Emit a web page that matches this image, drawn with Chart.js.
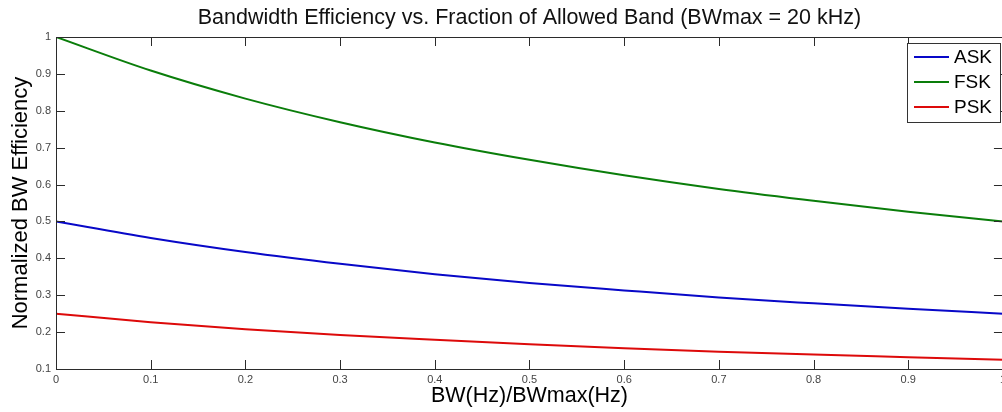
<!DOCTYPE html>
<html>
<head>
<meta charset="utf-8">
<script src="https://cdn.jsdelivr.net/npm/chart.js@4.4.1/dist/chart.umd.min.js"></script>
<style>
  html, body { margin: 0; padding: 0; background: #fff; overflow: hidden; }
  #wrap { width: 1002px; height: 412px; overflow: hidden; }
</style>
</head>
<body>
<div id="wrap"><canvas id="bwChart" width="1010" height="412"></canvas></div>
<script>
// values
const bwFraction = [0, 0.1, 0.2, 0.3, 0.4, 0.5, 0.6, 0.7, 0.8, 0.9, 1.0];
const askEff = [0.500, 0.455, 0.417, 0.385, 0.357, 0.333, 0.313, 0.294, 0.278, 0.263, 0.250];
const fskEff = [1.000, 0.909, 0.833, 0.769, 0.714, 0.667, 0.625, 0.588, 0.556, 0.526, 0.500];
const pskEff = [0.250, 0.227, 0.208, 0.192, 0.179, 0.167, 0.156, 0.147, 0.139, 0.132, 0.125];
const seriesNames = ['ASK', 'FSK', 'PSK'];
const seriesColors = ['#0808c8', '#0a7d0a', '#dd0a0a'];

const FONT = 'Arial, "Liberation Sans", sans-serif';

function toPoints(ys) {
    return bwFraction.map((x, i) => ({ x: x, y: ys[i] }));
}

// MATLAB style box with inward ticks on all four sides, plus boxed legend
const matlabAxes = {
    id: 'matlabAxes',
    afterDatasetsDraw(chart) {
        const c = chart.ctx;
        const a = chart.chartArea;
        const xs = chart.scales.x, ys = chart.scales.y;
        const tl = 9;
        c.save();
        c.strokeStyle = '#2b2b2b';
        c.lineWidth = 1;
        c.beginPath();
        c.rect(a.left + 0.5, a.top + 0.5, a.right - a.left, a.bottom - a.top);
        xs.ticks.forEach(t => {
            const px = Math.round(xs.getPixelForValue(t.value)) + 0.5;
            c.moveTo(px, a.bottom); c.lineTo(px, a.bottom - tl);
            c.moveTo(px, a.top); c.lineTo(px, a.top + tl);
        });
        ys.ticks.forEach(t => {
            const py = Math.round(ys.getPixelForValue(t.value)) + 0.5;
            c.moveTo(a.left, py); c.lineTo(a.left + tl, py);
            c.moveTo(a.right, py); c.lineTo(a.right - tl, py);
        });
        c.stroke();

        // legend
        const bx = 907, by = 43, bw = 93, bh = 79;
        c.fillStyle = '#fff';
        c.fillRect(bx, by, bw, bh);
        c.strokeStyle = '#333';
        c.strokeRect(bx + 0.5, by + 0.5, bw, bh);
        c.font = '19px ' + FONT;
        c.textBaseline = 'middle';
        chart.data.datasets.forEach((ds, i) => {
            const ry = by + 14 + i * 25;
            c.strokeStyle = ds.borderColor;
            c.lineWidth = 2;
            c.beginPath();
            c.moveTo(bx + 7, ry); c.lineTo(bx + 42, ry);
            c.stroke();
            c.fillStyle = '#000';
            c.fillText(ds.label, bx + 47, ry + 1);
        });
        c.restore();
    }
};

const ctx = document.getElementById('bwChart');
new Chart(ctx.getContext('2d'), {
    type: 'line',
    data: {
        datasets: seriesNames.map((name, i) => ({
            label: name,
            data: toPoints([askEff, fskEff, pskEff][i]),
            borderColor: seriesColors[i],
            backgroundColor: seriesColors[i],
            borderWidth: 2,
            pointRadius: 0,
            fill: false,
            cubicInterpolationMode: 'monotone'
        }))
    },
    options: {
        responsive: false,
        animation: false,
        layout: { padding: { right: 6, left: 0, bottom: 0 } },
        plugins: {
            legend: { display: false },
            tooltip: { enabled: false },
            title: {
                display: true,
                fullSize: false,
                text: 'Bandwidth Efficiency vs. Fraction of Allowed Band (BWmax = 20 kHz)',
                color: '#111',
                font: { family: FONT, size: 21.5, weight: 'normal', lineHeight: 1.2 },
                padding: { top: 5, bottom: 6.2 }
            }
        },
        scales: {
            x: {
                type: 'linear',
                min: 0,
                max: 1,
                grid: { display: false, drawTicks: false },
                border: { display: false },
                ticks: {
                    stepSize: 0.1,
                    padding: 4,
                    color: '#444',
                    maxRotation: 0,
                    font: { family: FONT, size: 11 },
                    callback: v => String(+v.toFixed(1))
                },
                title: {
                    display: true,
                    text: 'BW(Hz)/BWmax(Hz)',
                    color: '#000',
                    font: { family: FONT, size: 21.5 },
                    padding: { top: 0, bottom: 3 }
                },
                afterFit(scale) { scale.height = 43; }
            },
            y: {
                min: 0.1,
                max: 1,
                grid: { display: false, drawTicks: false },
                border: { display: false },
                ticks: {
                    stepSize: 0.1,
                    padding: 5,
                    color: '#444',
                    font: { family: FONT, size: 11 },
                    callback: v => String(+v.toFixed(1))
                },
                title: {
                    display: true,
                    text: 'Normalized BW Efficiency',
                    color: '#000',
                    font: { family: FONT, size: 22 },
                    padding: { top: 8, bottom: 0 }
                },
                afterFit(scale) { scale.width = 56; }
            }
        }
    },
    plugins: [matlabAxes]
});
</script>
</body>
</html>
